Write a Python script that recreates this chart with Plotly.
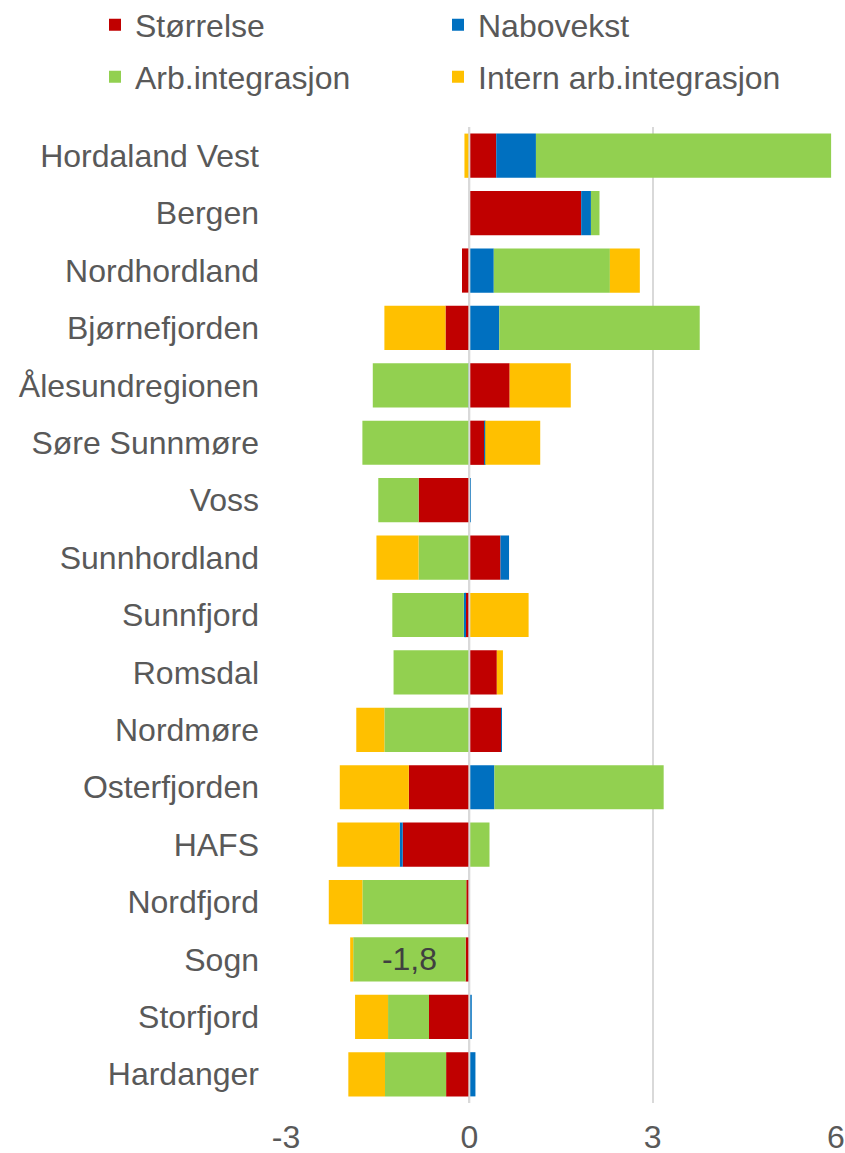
import plotly.graph_objects as go

regions = ["Hordaland Vest", "Bergen", "Nordhordland", "Bjørnefjorden", "Ålesundregionen",
           "Søre Sunnmøre", "Voss", "Sunnhordland", "Sunnfjord", "Romsdal", "Nordmøre",
           "Osterfjorden", "HAFS", "Nordfjord", "Sogn", "Storfjord", "Hardanger"]

storrelse = [0.44, 1.83, -0.12, -0.39, 0.66, 0.25, -0.83, 0.51, -0.07, 0.45, 0.52,
             -0.99, -1.09, -0.05, -0.06, -0.66, -0.38]
nabovekst = [0.65, 0.16, 0.40, 0.49, -0.01, 0.01, 0.02, 0.14, -0.02, 0.0, 0.01,
             0.41, -0.05, 0.0, 0.0, 0.04, 0.10]
arb_integrasjon = [4.83, 0.14, 1.90, 3.28, -1.57, -1.75, -0.66, -0.83, -1.17, -1.24, -1.39,
                   2.77, 0.33, -1.70, -1.84, -0.67, -1.00]
intern_arb = [-0.08, 0.0, 0.49, -1.00, 1.00, 0.90, 0.0, -0.69, 0.97, 0.10, -0.46,
              -1.13, -1.02, -0.55, -0.05, -0.54, -0.60]
arb_labels = ["", "", "", "", "", "", "", "", "", "", "", "", "", "", "-1,8", "", ""]

x_ticks = [-3, 0, 3, 6]

colors = {"Størrelse": "#C00000", "Nabovekst": "#0070C0",
          "Arb.integrasjon": "#92D050", "Intern arb.integrasjon": "#FFC000"}

FONT = "Liberation Sans, Arial, sans-serif"
TXT = "#595959"
FS = 32

# plot area in pixels
L, R, T, B = 286, 9, 127, 50
W, H = 845, 1153
PW, PH = W - L - R, H - T - B

fig = go.Figure()
fig.add_trace(go.Bar(y=regions, x=storrelse, orientation="h", name="Størrelse",
                     marker=dict(color=colors["Størrelse"], line=dict(width=0)),
                     legend="legend"))
fig.add_trace(go.Bar(y=regions, x=nabovekst, orientation="h", name="Nabovekst",
                     marker=dict(color=colors["Nabovekst"], line=dict(width=0)),
                     legend="legend"))
fig.add_trace(go.Bar(y=regions, x=arb_integrasjon, orientation="h", name="Arb.integrasjon",
                     marker=dict(color=colors["Arb.integrasjon"], line=dict(width=0)),
                     text=arb_labels, textposition="inside", insidetextanchor="middle",
                     textfont=dict(size=FS, color="#404040", family=FONT),
                     legend="legend2"))
fig.add_trace(go.Bar(y=regions, x=intern_arb, orientation="h", name="Intern arb.integrasjon",
                     marker=dict(color=colors["Intern arb.integrasjon"], line=dict(width=0)),
                     legend="legend2"))

legend_x = (95 - L) / PW
legend_common = dict(orientation="h", xanchor="left", yanchor="middle",
                     font=dict(size=FS, color=TXT, family=FONT),
                     entrywidth=298, entrywidthmode="pixels",
                     bgcolor="rgba(0,0,0,0)", itemclick=False)

fig.update_layout(
    width=W, height=H,
    barmode="relative",
    bargap=0.23,
    plot_bgcolor="white", paper_bgcolor="white",
    margin=dict(l=L, r=R, t=T, b=B, autoexpand=False),
    font=dict(family=FONT, color=TXT, size=FS),
    legend=dict(x=legend_x, y=1 + (T - 25) / PH, **legend_common),
    legend2=dict(x=legend_x, y=1 + (T - 77) / PH, **legend_common),
    xaxis=dict(range=[-3, 6], tickvals=x_ticks, ticktext=[str(v) for v in x_ticks],
               showgrid=True, gridcolor="#D9D9D9", gridwidth=2,
               zeroline=False, showline=False, ticks="",
               tickfont=dict(size=FS, color=TXT, family=FONT),
               ticklabelstandoff=12),
    yaxis=dict(autorange="reversed", showgrid=False, zeroline=False, showline=False,
               ticks="", tickfont=dict(size=FS, color=TXT, family=FONT),
               ticklabelstandoff=26),
    shapes=[dict(type="line", xref="x", yref="paper", x0=0, x1=0, y0=0, y1=1,
                 line=dict(color="#D9D9D9", width=2), layer="above")],
    showlegend=True,
)

fig.write_html("out.html", config={"displayModeBar": False},
               post_script="document.body.style.margin='0';")
